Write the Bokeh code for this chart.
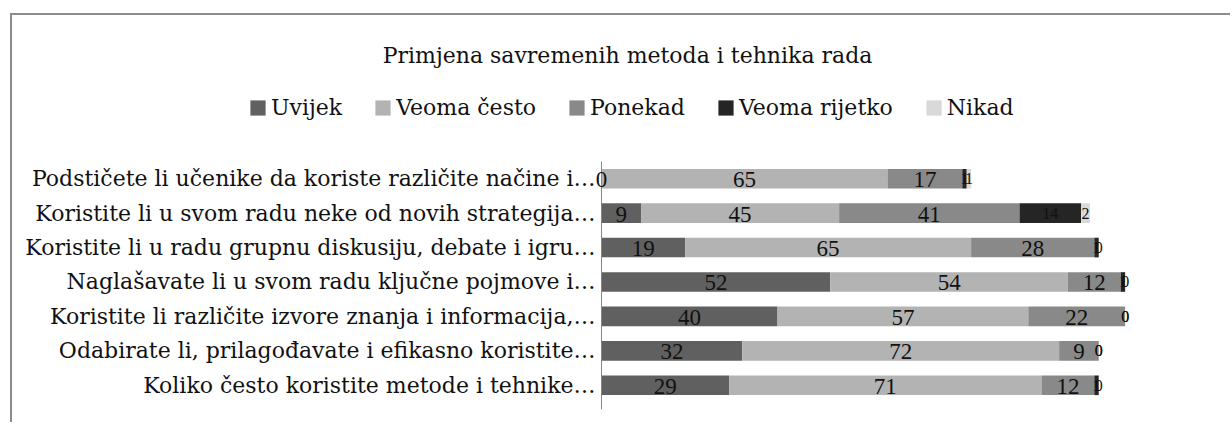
from bokeh.plotting import figure
from bokeh.models import ColumnDataSource, FixedTicker, Label, LabelSet, Legend, LegendItem
from bokeh.embed import file_html
from bokeh.resources import INLINE

# ---------------- data ----------------
title_text = "Primjena savremenih metoda i tehnika rada"
questions = [
    "Podstičete li učenike da koriste različite načine i…",
    "Koristite li u svom radu neke od novih strategija…",
    "Koristite li u radu grupnu diskusiju, debate i igru…",
    "Naglašavate li u svom radu ključne pojmove i…",
    "Koristite li različite izvore znanja i informacija,…",
    "Odabirate li, prilagođavate i efikasno koristite…",
    "Koliko često koristite metode i tehnike…",
]
series = ["Uvijek", "Veoma često", "Ponekad", "Veoma rijetko", "Nikad"]
uvijek = [0, 9, 19, 52, 40, 32, 29]
veoma_cesto = [65, 45, 65, 54, 57, 72, 71]
ponekad = [17, 41, 28, 12, 22, 9, 12]
veoma_rijetko = [1, 14, 1, 1, 0, 0, 1]
nikad = [1, 2, 0, 0, 0, 0, 0]
colors = ["#606060", "#b3b3b3", "#898989", "#252525", "#d9d9d9"]

FONT = "DejaVu Serif"
W, H = 1220, 409
keys = ["s0", "s1", "s2", "s3", "s4"]
values = [uvijek, veoma_cesto, ponekad, veoma_rijetko, nikad]
n = len(questions)
ypos = [n - 1 - i for i in range(n)]  # first question on top

src = ColumnDataSource(dict(y=ypos, **{k: v for k, v in zip(keys, values)}))

p = figure(
    x_range=(-133.86, 143.4), y_range=(-1.139, 10.740),
    width=W, height=H,
    output_backend="svg", toolbar_location=None,
    min_border_left=0, min_border_right=0, min_border_top=0, min_border_bottom=0,
)
p.margin = (13, 0, 0, 10)
p.styles = {"border-top": "2px solid #8c8c8c", "border-left": "2px solid #8c8c8c"}
p.background_fill_color = "white"
p.border_fill_color = "white"
p.outline_line_color = None

renderers = p.hbar_stack(keys, y="y", height=0.57, color=colors, source=src, line_color=None)

# data labels
big_x, big_y, big_t = [], [], []
small_x, small_y, small_t = [], [], []
for i in range(n):
    left = 0
    for j, vals in enumerate(values):
        v = vals[i]
        c = left + v / 2
        left += v
        if j < 3:
            big_x.append(c); big_y.append(ypos[i]); big_t.append(str(v))
        else:
            small_x.append(c); small_y.append(ypos[i]); small_t.append(str(v))

big = LabelSet(x="x", y="y", text="t", source=ColumnDataSource(dict(x=big_x, y=big_y, t=big_t)),
               text_align="center", text_baseline="middle", text_font_size="23px",
               text_color="#111111", text_font=FONT, y_offset=-1)
small = LabelSet(x="x", y="y", text="t", source=ColumnDataSource(dict(x=small_x, y=small_y, t=small_t)),
                 text_align="center", text_baseline="middle", text_font_size="16px",
                 text_color="#111111", text_font=FONT)
p.add_layout(big)
p.add_layout(small)

# axes
p.xaxis.visible = False
p.xgrid.visible = False
p.ygrid.visible = False
ax = p.yaxis[0]
ax.fixed_location = 0
ax.bounds = (-0.7, n - 0.5)
ax.ticker = FixedTicker(ticks=ypos)
ax.major_label_overrides = {y: q for y, q in zip(ypos, questions)}
ax.major_tick_line_color = None
ax.minor_tick_line_color = None
ax.axis_line_color = "#868686"
ax.axis_line_width = 1
ax.major_label_standoff = 0
ax.major_label_text_font = FONT
ax.major_label_text_font_size = "22px"
ax.major_label_text_color = "#111111"

# title
p.add_layout(Label(x=615, y=H - 40, x_units="screen", y_units="screen", text=title_text,
                   text_align="center", text_baseline="middle", text_font=FONT,
                   text_font_size="22px", text_color="#111111"))

# legend
legend = Legend(items=[LegendItem(label=s, renderers=[r]) for s, r in zip(series, renderers)],
                orientation="horizontal", location=(236, H - 105),
                glyph_width=19, glyph_height=19, label_standoff=4, spacing=31,
                padding=0, margin=0, border_line_color=None, background_fill_alpha=0,
                label_text_font=FONT, label_text_font_size="22px", label_text_color="#111111",
                label_height=20)
p.add_layout(legend, "center")

open("out.html", "w").write(file_html(p, INLINE))
